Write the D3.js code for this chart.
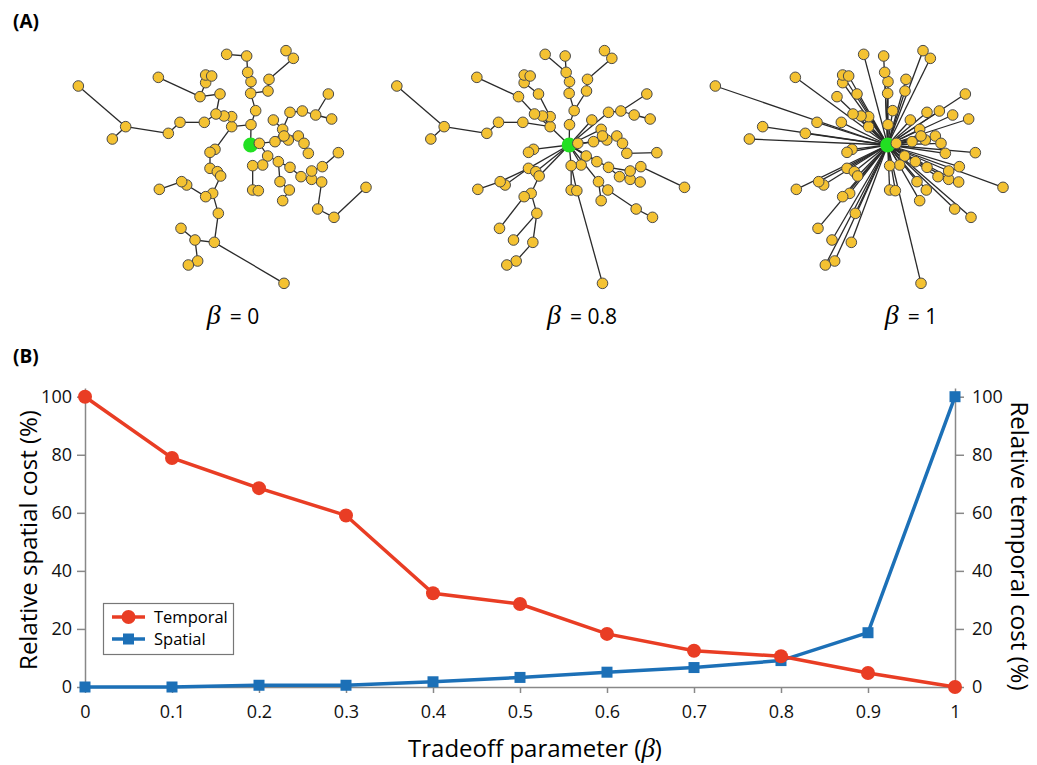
<!DOCTYPE html>
<html>
<head>
<meta charset="utf-8">
<script src="https://cdnjs.cloudflare.com/ajax/libs/d3/7.8.5/d3.min.js"></script>
<style>
body { margin: 0; background: #fff; }
svg { display: block; font-family: "Open Sans", sans-serif; }
</style>
</head>
<body>
<div id="chart"></div>
<script>
// panel B data
const betaValues = [0, 0.1, 0.2, 0.3, 0.4, 0.5, 0.6, 0.7, 0.8, 0.9, 1];
const temporalCost = [100, 78.9, 68.5, 59.1, 32.3, 28.6, 18.3, 12.5, 10.6, 4.8, 0];
const spatialCost = [0, 0, 0.6, 0.6, 1.8, 3.3, 5.1, 6.7, 9.1, 18.7, 100];
const yTicks = [0, 20, 40, 60, 80, 100];

// panel A data: node layout (same for all three trees), node 0 is the root
const nodeX = [572, 598, 573, 587, 572, 573, 563, 560, 500, 624, 627, 700, 678, 515, 515, 492, 468, 480, 420, 295,
    437, 437, 455, 433, 360, 325, 197, 55, 157, 465, 450, 450, 472, 482, 458, 437, 380, 365, 298, 475,
    463, 363, 405, 413, 385, 672, 623, 608, 578, 578, 595, 655, 690, 723, 755, 755, 787, 835, 785, 773,
    822, 918, 645, 668, 640, 690, 727, 767, 805, 815, 685, 672, 715, 732, 745, 660, 688, 668];
const nodeY = [345, 340, 284, 242, 190, 155, 127, 78, 73, 183, 148, 85, 62, 290, 260, 258, 252, 192, 200, 142,
    158, 135, 138, 277, 277, 310, 290, 168, 327, 358, 367, 415, 425, 438, 490, 500, 465, 455, 478, 550,
    637, 595, 630, 693, 705, 760, 378, 405, 407, 480, 482, 395, 412, 440, 448, 423, 410, 368, 456, 537,
    562, 472, 335, 298, 270, 247, 243, 255, 192, 267, 330, 318, 318, 340, 370, 455, 480, 512];

// parent of each node in the three trees
const parentBeta0 = [-1, 0, 0, 2, 3, 4, 5, 6, 7, 4, 9, 10, 11, 2, 13, 14, 15, 16, 17, 18,
    18, 20, 20, 16, 23, 24, 25, 26, 26, 13, 29, 30, 31, 32, 33, 34, 35, 36, 37, 34,
    39, 42, 40, 42, 43, 40, 1, 46, 47, 48, 49, 46, 51, 52, 53, 54, 55, 56, 54, 58,
    59, 60, 1, 62, 63, 63, 65, 66, 67, 67, 62, 70, 71, 72, 73, 51, 75, 76];
const parentBeta08 = [-1, 0, 0, 2, 3, 4, 5, 6, 6, 3, 9, 10, 11, 0, 13, 13, 13, 14, 16, 18,
    17, 20, 20, 13, 23, 24, 25, 26, 26, 0, 29, 0, 0, 0, 33, 34, 31, 31, 37, 34,
    39, 35, 39, 40, 43, 50, 0, 0, 0, 48, 48, 0, 0, 52, 53, 52, 55, 74, 54, 76,
    59, 56, 0, 0, 0, 0, 65, 66, 66, 67, 0, 63, 70, 72, 73, 0, 75, 75];
const parentBeta1 = [-1, 0, 0, 0, 0, 0, 0, 0, 0, 0, 0, 0, 0, 0, 0, 0, 0, 0, 0, 0,
    0, 0, 0, 0, 0, 0, 0, 0, 0, 0, 0, 0, 0, 0, 0, 0, 0, 0, 0, 0,
    0, 0, 0, 0, 0, 0, 0, 0, 0, 0, 0, 0, 0, 0, 0, 0, 0, 0, 0, 0,
    0, 0, 0, 0, 0, 0, 0, 0, 0, 0, 0, 0, 0, 0, 0, 0, 0, 0];
const treeLabels = ['0', '0.8', '1'];

const svg = d3.select('#chart')
    .append('svg')
    .attr('width', 1037)
    .attr('height', 765);

// ---- panel A ----
svg.append('text')
    .attr('x', 13)
    .attr('y', 28)
    .attr('font-size', 19)
    .attr('font-weight', 'bold')
    .text('(A)');

const panelLeft = [60, 378.5, 697];
const labelCenter = [233, 582, 911];
const trees = [parentBeta0, parentBeta08, parentBeta1];
const nodeIndex = d3.range(nodeX.length);

trees.forEach((parents, i) => {
    const sx = d3.scaleLinear().domain([0, 960]).range([panelLeft[i], panelLeft[i] + 320]);
    const sy = d3.scaleLinear().domain([0, 810]).range([30, 300]);
    const g = svg.append('g');

    g.selectAll('line')
        .data(nodeIndex.filter(d => parents[d] >= 0))
        .join('line')
        .attr('x1', d => sx(nodeX[parents[d]]))
        .attr('y1', d => sy(nodeY[parents[d]]))
        .attr('x2', d => sx(nodeX[d]))
        .attr('y2', d => sy(nodeY[d]))
        .attr('stroke', '#2a2a2a')
        .attr('stroke-width', 1.3);

    g.append('circle')
        .attr('cx', sx(nodeX[0]))
        .attr('cy', sy(nodeY[0]))
        .attr('r', 7.5)
        .attr('fill', '#22e022');

    g.selectAll('circle.node')
        .data(nodeIndex.slice(1))
        .join('circle')
        .attr('class', 'node')
        .attr('cx', d => sx(nodeX[d]))
        .attr('cy', d => sy(nodeY[d]))
        .attr('r', 5.3)
        .attr('fill', '#f4c232')
        .attr('stroke', '#4a4a4a')
        .attr('stroke-width', 1);

    const label = g.append('text')
        .attr('x', labelCenter[i])
        .attr('y', 324)
        .attr('text-anchor', 'middle')
        .attr('font-size', 21);
    label.append('tspan')
        .attr('font-family', '"Liberation Serif", serif')
        .attr('font-style', 'italic')
        .attr('font-size', 28)
        .text('\u03B2');
    label.append('tspan')
        .attr('dx', 9)
        .text('= ' + treeLabels[i]);
});

// ---- panel B ----
svg.append('text')
    .attr('x', 13)
    .attr('y', 363)
    .attr('font-size', 19)
    .attr('font-weight', 'bold')
    .text('(B)');

const x = d3.scaleLinear().domain([0, 1]).range([85, 955]);
const y = d3.scaleLinear().domain([0, 103]).range([687, 388]);
const axisColor = '#888';

function styleAxis(sel) {
    sel.selectAll('path, line').attr('stroke', axisColor).attr('stroke-width', 1.5);
    sel.selectAll('text').attr('font-size', 18).attr('fill', '#111').attr('font-family', '"Open Sans", sans-serif');
}

svg.append('g')
    .attr('transform', `translate(0, ${y(0)})`)
    .call(d3.axisBottom(x).tickValues(betaValues).tickFormat(d3.format('~g')).tickSize(6).tickPadding(12).tickSizeOuter(0))
    .call(styleAxis);

svg.append('g')
    .attr('transform', `translate(${x(0)}, 0)`)
    .call(d3.axisLeft(y).tickValues(yTicks).tickSize(8).tickPadding(5).tickSizeOuter(0))
    .call(styleAxis);

svg.append('g')
    .attr('transform', `translate(${x(1)}, 0)`)
    .call(d3.axisRight(y).tickValues(yTicks).tickSize(9).tickPadding(8).tickSizeOuter(0))
    .call(styleAxis);

const temporalColor = '#e93d24';
const spatialColor = '#1c70b7';

const line = d3.line()
    .x((d, i) => x(betaValues[i]))
    .y(d => y(d));

svg.append('path')
    .datum(spatialCost)
    .attr('d', line)
    .attr('fill', 'none')
    .attr('stroke', spatialColor)
    .attr('stroke-width', 3.5);

svg.append('path')
    .datum(temporalCost)
    .attr('d', line)
    .attr('fill', 'none')
    .attr('stroke', temporalColor)
    .attr('stroke-width', 3.5);

svg.selectAll('rect.spatial')
    .data(spatialCost)
    .join('rect')
    .attr('class', 'spatial')
    .attr('x', (d, i) => x(betaValues[i]) - 5.5)
    .attr('y', d => y(d) - 5.5)
    .attr('width', 11)
    .attr('height', 11)
    .attr('fill', spatialColor);

svg.selectAll('circle.temporal')
    .data(temporalCost)
    .join('circle')
    .attr('class', 'temporal')
    .attr('cx', (d, i) => x(betaValues[i]))
    .attr('cy', d => y(d))
    .attr('r', 7)
    .attr('fill', temporalColor);

// axis titles
const xTitle = svg.append('text')
    .attr('x', 535)
    .attr('y', 757)
    .attr('text-anchor', 'middle')
    .attr('font-size', 24)
    .text('Tradeoff parameter (');
xTitle.append('tspan')
    .attr('font-family', '"Liberation Serif", serif')
    .attr('font-style', 'italic')
    .attr('font-size', 27)
    .text('\u03B2');
xTitle.append('tspan').text(')');

svg.append('text')
    .attr('transform', 'translate(37, 540) rotate(-90)')
    .attr('text-anchor', 'middle')
    .attr('font-size', 24)
    .text('Relative spatial cost (%)');

svg.append('text')
    .attr('transform', 'translate(1011, 546) rotate(90)')
    .attr('text-anchor', 'middle')
    .attr('font-size', 24)
    .text('Relative temporal cost (%)');

// legend
const legend = svg.append('g');
legend.append('rect')
    .attr('x', 103.5)
    .attr('y', 603.5)
    .attr('width', 130)
    .attr('height', 51)
    .attr('fill', '#fff')
    .attr('stroke', '#777')
    .attr('stroke-width', 1.2);

const legendItems = [
    { name: 'Temporal', color: temporalColor, shape: 'circle' },
    { name: 'Spatial', color: spatialColor, shape: 'square' }
];

legendItems.forEach((item, i) => {
    const ly = 617 + i * 22;
    legend.append('line')
        .attr('x1', 112)
        .attr('x2', 145)
        .attr('y1', ly)
        .attr('y2', ly)
        .attr('stroke', item.color)
        .attr('stroke-width', 3.5);
    if (item.shape === 'circle') {
        legend.append('circle').attr('cx', 128.5).attr('cy', ly).attr('r', 7).attr('fill', item.color);
    } else {
        legend.append('rect').attr('x', 123).attr('y', ly - 5.5).attr('width', 11).attr('height', 11).attr('fill', item.color);
    }
    legend.append('text')
        .attr('x', 154)
        .attr('y', ly)
        .attr('dy', '0.35em')
        .attr('font-size', 16.5)
        .text(item.name);
});
</script>
</body>
</html>
